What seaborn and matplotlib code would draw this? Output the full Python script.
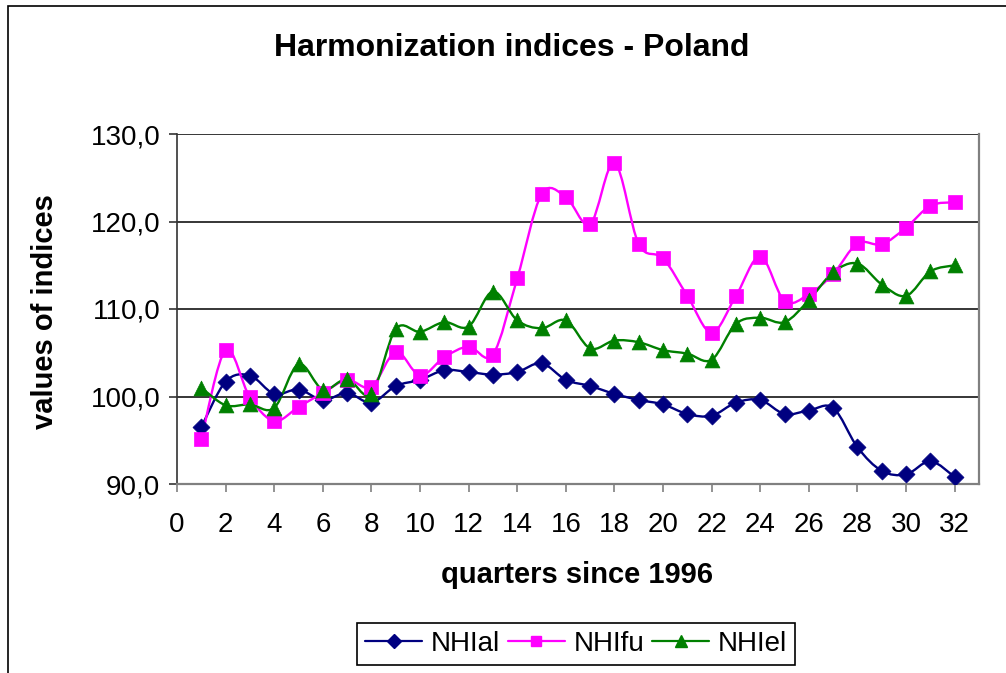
import matplotlib
matplotlib.use("Agg")
import matplotlib.pyplot as plt
import seaborn as sns
import pandas as pd
import numpy as np
from matplotlib.path import Path
from matplotlib.patches import PathPatch, Rectangle
from matplotlib.lines import Line2D
from matplotlib.ticker import FuncFormatter, MultipleLocator

quarters = list(range(1, 33))
nhial = [96.5, 101.7, 102.4, 100.3, 100.8, 99.6, 100.4, 99.3,
         101.2, 101.9, 103.0, 102.8, 102.5, 102.8, 103.8, 101.9,
         101.2, 100.3, 99.6, 99.1, 98.0, 97.8, 99.3, 99.6,
         98.0, 98.4, 98.7, 94.2, 91.5, 91.1, 92.6, 90.8]
nhifu = [95.1, 105.3, 99.9, 97.2, 98.8, 100.4, 101.9, 101.1,
         105.1, 102.4, 104.5, 105.7, 104.8, 113.5, 123.1, 122.8,
         119.7, 126.7, 117.4, 115.8, 111.5, 107.3, 111.5, 116.0,
         110.9, 111.7, 114.0, 117.5, 117.4, 119.3, 121.8, 122.2]
nhiel = [101.0, 99.0, 99.1, 98.7, 103.7, 100.8, 102.0, 100.3,
         107.7, 107.4, 108.5, 108.0, 112.0, 108.7, 107.8, 108.7,
         105.5, 106.4, 106.2, 105.3, 104.9, 104.2, 108.3, 109.0,
         108.5, 111.0, 114.2, 115.2, 112.8, 111.5, 114.3, 115.0]
series_names = ["NHIal", "NHIfu", "NHIel"]
colors = ["#000080", "#FF00FF", "#008000"]
markers = ["D", "s", "^"]
msizes = [75, 95, 115]

df = pd.DataFrame({"quarter": quarters * 3,
                   "value": nhial + nhifu + nhiel,
                   "series": np.repeat(series_names, len(quarters))})

sns.set_theme(style="white")
plt.rcParams["font.family"] = ["Liberation Sans", "DejaVu Sans"]
plt.rcParams["text.color"] = "black"
plt.rcParams["axes.labelcolor"] = "black"

fig = plt.figure(figsize=(10.06, 6.73), dpi=100)
ax = fig.add_axes([177 / 1006, 1 - 484 / 673, 802 / 1006, 350 / 673])


def smooth_path(x, y):
    # Excel-style smoothed line: cubic Bezier through the points
    x = np.asarray(x, float)
    y = np.asarray(y, float)
    verts = [(x[0], y[0])]
    codes = [Path.MOVETO]
    n = len(x)
    for i in range(n - 1):
        x0, y0 = (x[i - 1], y[i - 1]) if i > 0 else (x[i], y[i])
        x3, y3 = (x[i + 2], y[i + 2]) if i + 2 < n else (x[i + 1], y[i + 1])
        c1 = (x[i] + (x[i + 1] - x0) / 6, y[i] + (y[i + 1] - y0) / 6)
        c2 = (x[i + 1] - (x3 - x[i]) / 6, y[i + 1] - (y3 - y[i]) / 6)
        verts += [c1, c2, (x[i + 1], y[i + 1])]
        codes += [Path.CURVE4] * 3
    return Path(verts, codes)


for name, col, mk, ms in zip(series_names, colors, markers, msizes):
    sub = df[df["series"] == name]
    ax.add_patch(PathPatch(smooth_path(sub["quarter"], sub["value"]),
                           facecolor="none", edgecolor=col, lw=1.7, zorder=3))
    sns.scatterplot(data=sub, x="quarter", y="value", marker=mk, color=col,
                    s=ms, edgecolor=col, linewidth=0.5, ax=ax, zorder=4,
                    legend=False)

ax.set_xlim(0, 33)
ax.set_ylim(90, 130)
ax.xaxis.set_major_locator(MultipleLocator(2))
ax.yaxis.set_major_locator(MultipleLocator(10))
ax.yaxis.set_major_formatter(FuncFormatter(lambda v, p: f"{v:.1f}".replace(".", ",")))
ax.grid(axis="y", color="black", lw=1.1)
ax.grid(axis="x", visible=False)
ax.set_axisbelow(True)
ax.set_xlabel("")
ax.set_ylabel("")

for s in ["right", "bottom"]:
    ax.spines[s].set_color("#808080")
    ax.spines[s].set_linewidth(1.6)
ax.spines["left"].set_color("#333333")
ax.spines["left"].set_linewidth(1.2)
ax.spines["top"].set_visible(False)
ax.tick_params(axis="both", which="major", length=6, width=1.2, direction="out",
               labelsize=20, colors="#333333", labelcolor="black")
ax.tick_params(axis="x", pad=14, bottom=True, colors="#808080", labelcolor="black")
ax.tick_params(axis="y", pad=6, left=True)

fig.text(512 / 1006, 1 - 48 / 673, "Harmonization indices - Poland",
         ha="center", va="center", fontsize=23, fontweight="bold", color="black")
fig.text(577 / 1006, 1 - 575 / 673, "quarters since 1996",
         ha="center", va="center", fontsize=21, fontweight="bold", color="black")
fig.text(45 / 1006, 1 - 312 / 673, "values of indices", rotation=90,
         ha="center", va="center", fontsize=21, fontweight="bold", color="black")

handles = [Line2D([0], [0], color=c, marker=m, markersize=ms ** 0.5 * 0.8, lw=1.6)
           for c, m, ms in zip(colors, markers, msizes)]
leg = fig.legend(handles, series_names, loc="center", ncol=3,
                 bbox_to_anchor=(576 / 1006, 1 - 644 / 673), fontsize=20,
                 frameon=True, fancybox=False, framealpha=1, handlelength=2.05,
                 columnspacing=0.3, handletextpad=0.3, borderpad=0.3,
                 borderaxespad=0)
for t in leg.get_texts():
    t.set_color("black")
leg.get_frame().set_edgecolor("black")
leg.get_frame().set_linewidth(1.2)

# outer chart frame
fig.patches.append(Rectangle((8 / 1006, -0.05), 1.1, 1 - 6 / 673 + 0.05,
                             transform=fig.transFigure, fill=False,
                             edgecolor="black", lw=1.2, zorder=0))

fig.savefig("out.png", dpi=100)
